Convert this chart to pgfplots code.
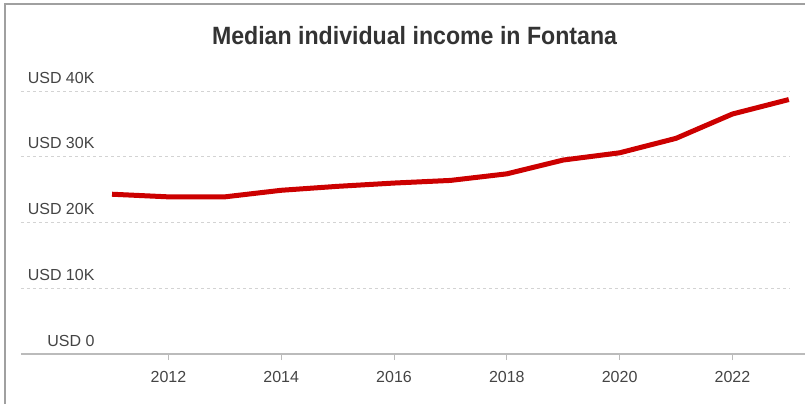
\documentclass[border=0pt]{standalone}
\usepackage{pgfplots}
\pgfplotsset{compat=1.18}
\usepackage{fontspec}
\setmainfont{Liberation Sans}
\definecolor{linered}{HTML}{CC0000}
\definecolor{txt}{HTML}{444444}
\definecolor{titletxt}{HTML}{333333}
\definecolor{gridc}{HTML}{D3D3D3}
\definecolor{axisc}{HTML}{BBBBBB}
\definecolor{framec}{HTML}{A0A0A0}
\begin{document}
\begin{tikzpicture}
\path[use as bounding box] (0,0) rectangle (805pt,404pt);
\draw[framec, line width=2pt] (5pt,0pt) -- (5pt,400pt) -- (805pt,400pt);
\node[anchor=base, text=titletxt, inner sep=0pt] at (414.5pt,359pt)
  {\resizebox{405pt}{\height}{\fontsize{25}{30}\selectfont\bfseries Median individual income in Fontana}};
\begin{axis}[
  at={(21pt,50pt)}, anchor=south west,
  scale only axis, width=784pt, height=276.15pt,
  xmin=2009.386, xmax=2023.287,
  ymin=0, ymax=42000,
  scaled y ticks=false,
  axis x line*=bottom, axis y line*=left,
  y axis line style={draw=none},
  x axis line style={axisc, line width=1.5pt, -},
  ytick={0,10000,20000,30000,40000},
  yticklabels={USD 0,USD 10K,USD 20K,USD 30K,USD 40K},
  ytick style={draw=none},
  yticklabel style={anchor=base east, xshift=83pt, yshift=8pt, text=txt, font=\fontsize{16}{19}\selectfont},
  xtick={2012,2014,2016,2018,2020,2022},
  xticklabels={2012,2014,2016,2018,2020,2022},
  xtick style={axisc, line width=1pt},
  tick align=outside, major tick length=6pt,
  xticklabel style={text=txt, font=\fontsize{16}{19}\selectfont, yshift=-8pt},
  clip=false,
]
\foreach \v in {10000,20000,30000,40000} {
  \edef\tmp{\noexpand\draw[gridc, line width=1pt, dash pattern=on 3pt off 3pt] (axis cs:2009.386,\v) -- (axis cs:2023.02,\v);}
  \tmp
}
\addplot[linered, line width=5pt, line join=round, line cap=butt, mark=none] coordinates {
(2011,24300) (2012,23900) (2013,23900) (2014,24900) (2015,25500) (2016,26000)
(2017,26400) (2018,27400) (2019,29500) (2020,30600) (2021,32800) (2022,36500) (2023,38700)
};
\end{axis}
\end{tikzpicture}
\end{document}
